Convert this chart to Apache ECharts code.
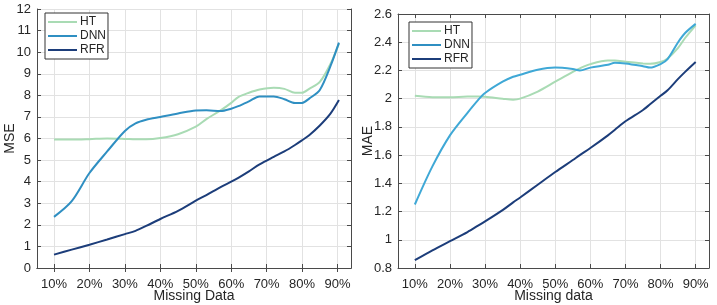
<!DOCTYPE html>
<html>
<head>
<meta charset="utf-8">
<script src="https://cdn.jsdelivr.net/npm/echarts@6/dist/echarts.min.js"></script>
<style>
html,body{margin:0;padding:0;background:#fff;}
#chart{width:717px;height:305px;}
</style>
</head>
<body>
<div id="chart"></div>
<script>
// 左图 MSE
var xMse = [10, 15, 20, 25, 30, 33, 36, 40, 45, 50, 53, 57, 60, 62, 65, 68, 72, 75, 78, 80, 82, 85, 88, 90.4];
var htMse = [5.95, 5.95, 5.97, 6.0, 5.98, 5.96, 5.96, 6.02, 6.2, 6.55, 6.9, 7.3, 7.65, 7.92, 8.12, 8.27, 8.35, 8.3, 8.12, 8.12, 8.3, 8.62, 9.45, 10.4];
var dnnMse = [2.37, 3.1, 4.4, 5.4, 6.35, 6.7, 6.87, 7.0, 7.16, 7.3, 7.31, 7.27, 7.38, 7.5, 7.72, 7.95, 7.95, 7.82, 7.64, 7.65, 7.85, 8.25, 9.35, 10.44];
var rfrMse = [0.62, 0.85, 1.08, 1.32, 1.57, 1.72, 1.95, 2.27, 2.65, 3.12, 3.38, 3.75, 4.0, 4.18, 4.48, 4.8, 5.15, 5.4, 5.7, 5.92, 6.15, 6.6, 7.15, 7.78];

// 右图 MAE
var xMae = [10, 15, 20, 25, 28, 30, 35, 38, 40, 45, 50, 55, 57, 60, 65, 67, 70, 75, 77, 80, 82, 85, 87, 90];
var htMae = [2.02, 2.01, 2.01, 2.015, 2.015, 2.013, 2.0, 1.993, 2.0, 2.05, 2.12, 2.19, 2.215, 2.245, 2.27, 2.27, 2.262, 2.25, 2.247, 2.26, 2.285, 2.36, 2.43, 2.52];
var dnnMae = [1.25, 1.52, 1.74, 1.9, 1.99, 2.04, 2.12, 2.155, 2.17, 2.205, 2.22, 2.21, 2.2, 2.22, 2.24, 2.255, 2.25, 2.23, 2.22, 2.245, 2.28, 2.4, 2.465, 2.53];
var rfrMae = [0.855, 0.925, 0.99, 1.055, 1.1, 1.13, 1.21, 1.265, 1.3, 1.39, 1.48, 1.565, 1.6, 1.65, 1.74, 1.78, 1.84, 1.92, 1.96, 2.02, 2.06, 2.14, 2.19, 2.26];

var xTicks = [10, 20, 30, 40, 50, 60, 70, 80, 90];
var names = ['HT', 'DNN', 'RFR'];

var font = '"Liberation Sans", Arial, sans-serif';
var axisColor = '#4a4a4a';
var gridColor = '#e2e2e2';

function pairs(xs, ys) {
	var out = [];
	for (var i = 0; i < xs.length; i++) out.push([xs[i], ys[i]]);
	return out;
}

function xAx(grid, name) {
	return {
		type: 'value', gridIndex: grid, min: 5.2, max: 93.8,
		name: name, nameLocation: 'middle', nameGap: 21, nameMoveOverlap: false,
		nameTextStyle: {fontFamily: font, fontSize: 14, color: '#262626'},
		axisLine: {show: true, lineStyle: {color: axisColor}},
		axisTick: {show: true, inside: true, length: 4, customValues: xTicks, lineStyle: {color: axisColor}},
		axisLabel: {customValues: xTicks, margin: 10, fontFamily: font, fontSize: 13, color: '#262626',
			formatter: function (v) { return v + '%'; }},
		splitLine: {show: true, lineStyle: {color: gridColor}}
	};
}
function xTop(grid) {
	return {
		type: 'value', gridIndex: grid, min: 5.2, max: 93.8, position: 'top',
		axisLine: {show: true, lineStyle: {color: axisColor}},
		axisTick: {show: true, inside: true, length: 4, customValues: xTicks, lineStyle: {color: axisColor}},
		axisLabel: {show: false}, splitLine: {show: false}
	};
}
function yAx(grid, name, min, max, step, gap) {
	return {
		type: 'value', gridIndex: grid, min: min, max: max, interval: step,
		name: name, nameLocation: 'middle', nameGap: gap, nameMoveOverlap: false,
		nameTextStyle: {fontFamily: font, fontSize: 14, color: '#262626'},
		axisLine: {show: true, lineStyle: {color: axisColor}},
		axisTick: {show: true, inside: true, length: 4, lineStyle: {color: axisColor}},
		axisLabel: {margin: 6, fontFamily: font, fontSize: 13, color: '#262626',
			formatter: function (v) { return String(+v.toFixed(1)); }},
		splitLine: {show: true, lineStyle: {color: gridColor}}
	};
}
function yRight(grid, min, max, step) {
	return {
		type: 'value', gridIndex: grid, min: min, max: max, interval: step, position: 'right',
		axisLine: {show: true, lineStyle: {color: axisColor}},
		axisTick: {show: true, inside: true, length: 4, lineStyle: {color: axisColor}},
		axisLabel: {show: false}, splitLine: {show: false}
	};
}
function line(name, xi, yi, data, color) {
	return {
		name: name, type: 'line', xAxisIndex: xi, yAxisIndex: yi,
		data: data, smooth: 0.3, symbol: 'none',
		lineStyle: {width: 2, color: color}, itemStyle: {color: color}
	};
}
function legend(left, top) {
	return {
		data: names, orient: 'vertical', left: left, top: top,
		icon: 'rect', backgroundColor: '#fff', borderColor: '#333', borderWidth: 1,
		padding: [2, 2, 2, 3], itemGap: 0, itemWidth: 29, itemHeight: 2,
		textStyle: {fontFamily: font, fontSize: 12, lineHeight: 14, color: '#262626', padding: [0, 0, 0, -2]}
	};
}

var myChart = echarts.init(document.getElementById('chart'));
var option = {
	animation: false,
	backgroundColor: '#fff',
	grid: [
		{left: 37, top: 9, width: 314, height: 259, outerBoundsMode: 'none', containLabel: false},
		{left: 398, top: 14, width: 311, height: 254, outerBoundsMode: 'none', containLabel: false}
	],
	legend: [legend(45, 13), legend(409, 22)],
	xAxis: [xAx(0, 'Missing Data'), xTop(0), xAx(1, 'Missing data'), xTop(1)],
	yAxis: [yAx(0, 'MSE', 0, 12, 1, 20), yRight(0, 0, 12, 1), yAx(1, 'MAE', 0.8, 2.6, 0.2, 23), yRight(1, 0.8, 2.6, 0.2)],
	series: [
		line('HT', 0, 0, pairs(xMse, htMse), '#a9dbb4'),
		line('DNN', 0, 0, pairs(xMse, dnnMse), '#2f8fc2'),
		line('RFR', 0, 0, pairs(xMse, rfrMse), '#1c3d7a'),
		line('HT', 2, 2, pairs(xMae, htMae), '#a9dbb4'),
		line('DNN', 2, 2, pairs(xMae, dnnMae), '#3fa8d6'),
		line('RFR', 2, 2, pairs(xMae, rfrMae), '#1c3d7a')
	]
};
myChart.setOption(option);
</script>
</body>
</html>
